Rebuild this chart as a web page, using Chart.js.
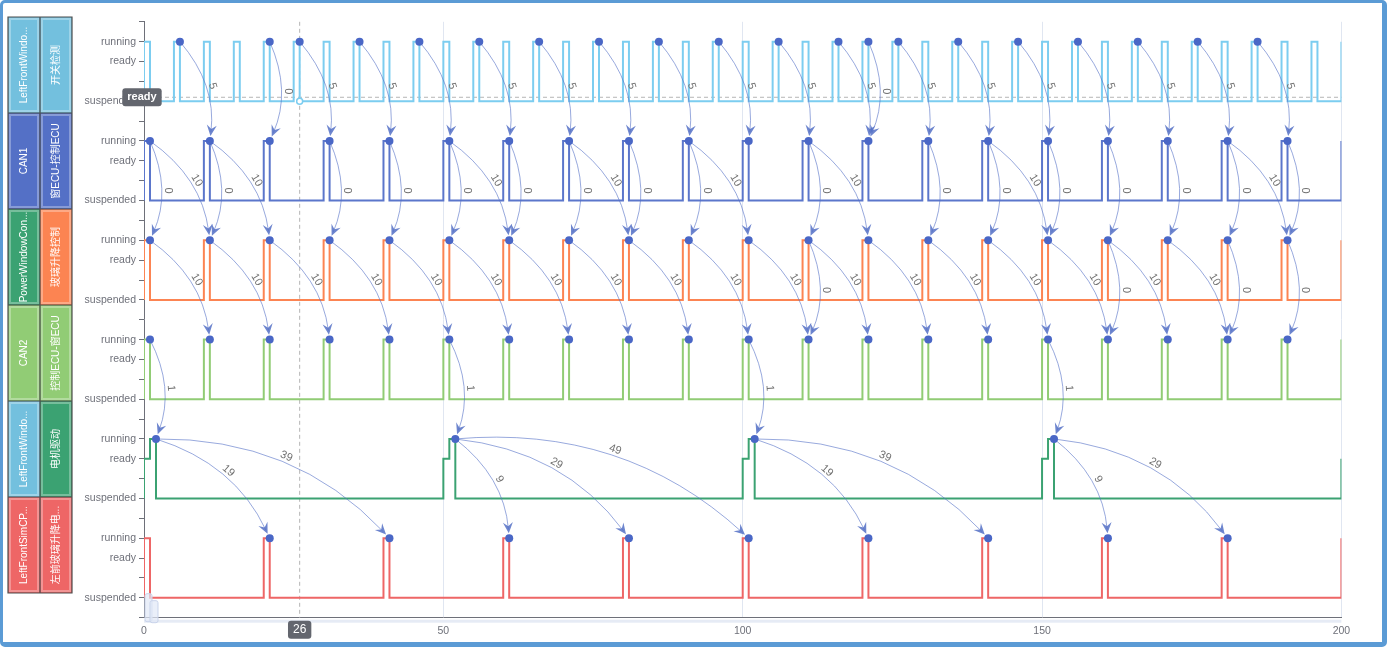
<!DOCTYPE html>
<html>
<head>
<meta charset="utf-8">
<script src="https://cdn.jsdelivr.net/npm/chart.js@4.4.0/dist/chart.umd.min.js"></script>
<style>
    html, body { margin: 0; padding: 0; background: #fff; }
    #wrap { position: relative; width: 1387px; height: 647px; overflow: hidden; }
    #frame {
        position: absolute; left: 0; top: 0; width: 1387px; height: 647px;
        box-sizing: border-box; border: 3px solid #5b9bd5;
        border-right-width: 5px; border-bottom-width: 5px; border-radius: 5px;
        pointer-events: none;
    }
</style>
</head>
<body>
<div id="wrap">
    <canvas id="canvas-1" width="1387" height="647"></canvas>
    <div id="frame"></div>
</div>
<script>
(function () {
    'use strict';

    var laneTitles = ['LeftFrontWindo...', 'CAN1', 'PowerWindowCon...', 'CAN2', 'LeftFrontWindo...', 'LeftFrontSimCP...'];
    var laneTasks = ['开关检测', '窗ECU-控制ECU', '玻璃升降控制', '控制ECU-窗ECU', '电机驱动', '左前玻璃升降电...'];
    var stateLabels = ['suspended', '', 'ready', 'running'];
    var xTicks = [0, 50, 100, 150, 200];

    // start time of every 1-unit "running" slice, per lane
    var switchRuns = [0, 5, 10, 15, 20, 25, 30, 35, 40, 45, 50, 55, 60, 65, 70, 75, 80, 85, 90, 95, 100,
        105, 110, 115, 120, 125, 130, 135, 140, 145, 150, 155, 160, 165, 170, 175, 180, 185, 190, 195, 200];
    var can1Runs = [0, 10, 20, 30, 40, 50, 60, 70, 80, 90, 100, 110, 120, 130, 140, 150, 160, 170, 180, 190, 200];
    var ctrlRuns = [0, 10, 20, 30, 40, 50, 60, 70, 80, 90, 100, 110, 120, 130, 140, 150, 160, 170, 180, 190, 200];
    var can2Runs = [0, 10, 20, 30, 40, 50, 60, 70, 80, 90, 100, 110, 120, 130, 140, 150, 160, 170, 180, 190, 200];
    var motorReady = [0, 50, 100, 150, 200];
    var motorRuns = [1, 51, 101, 151];
    var simRuns = [0, 20, 40, 60, 80, 100, 120, 140, 160, 180, 200];

    // finished jobs (the dots)
    var switchDone = [6, 21, 26, 36, 46, 56, 66, 76, 86, 96, 106, 116, 121, 126, 136, 146, 156, 166, 176, 186];
    var can1Done = [1, 11, 21, 31, 41, 51, 61, 71, 81, 91, 101, 111, 121, 131, 141, 151, 161, 171, 181, 191];
    var ctrlDone = [1, 11, 21, 31, 41, 51, 61, 71, 81, 91, 101, 111, 121, 131, 141, 151, 161, 171, 181, 191];
    var can2Done = [1, 11, 21, 31, 41, 51, 61, 71, 81, 91, 101, 111, 121, 131, 141, 151, 161, 171, 181, 191];
    var motorDone = [2, 52, 102, 152];
    var simDone = [21, 41, 61, 81, 101, 121, 141, 161, 181];

    // dependency arrows between neighbouring lanes: [from time, to time]
    var switchToCan1 = [[6, 11], [21, 21], [26, 31], [36, 41], [46, 51], [56, 61], [66, 71], [76, 81], [86, 91], [96, 101],
        [106, 111], [116, 121], [121, 121], [126, 131], [136, 141], [146, 151], [156, 161], [166, 171], [176, 181], [186, 191]];
    var can1ToCtrl = [[1, 1], [1, 11], [11, 11], [11, 21], [31, 31], [41, 41], [51, 51], [51, 61], [61, 61], [71, 71],
        [71, 81], [81, 81], [91, 91], [91, 101], [111, 111], [111, 121], [131, 131], [141, 141], [141, 151], [151, 151],
        [161, 161], [171, 171], [181, 181], [181, 191], [191, 191]];
    var ctrlToCan2 = [[1, 11], [11, 21], [21, 31], [31, 41], [41, 51], [51, 61], [61, 71], [71, 81], [81, 91], [91, 101],
        [101, 111], [111, 121], [121, 131], [131, 141], [141, 151], [151, 161], [161, 171], [171, 181],
        [111, 111], [161, 161], [181, 181], [191, 191]];
    var can2ToMotor = [[1, 2], [51, 52], [101, 102], [151, 152]];
    var motorToSim = [[2, 21], [2, 41], [52, 61], [52, 81], [52, 101], [102, 121], [102, 141], [152, 161], [152, 181]];

    // hover crosshair shown in the picture
    var pointerX = 26;
    var pointerY = 25.2;
    var pointerYLabel = 'ready';

    var laneColors = ['#7ccdf0', '#5b76cb', '#fc8452', '#91cc75', '#3ba272', '#ee6666'];
    var titleColors = ['#73c0de', '#5470c6', '#3ba272', '#91cc75', '#73c0de', '#ee6666'];
    var taskColors = ['#73c0de', '#5470c6', '#fc8452', '#91cc75', '#3ba272', '#ee6666'];
    var FONT = '"Liberation Sans", "Noto Sans CJK SC", sans-serif';

    var runs = [switchRuns, can1Runs, ctrlRuns, can2Runs, motorRuns, simRuns];
    var readies = [[], [], [], [], motorReady, []];
    var done = [switchDone, can1Done, ctrlDone, can2Done, motorDone, simDone];
    var links = [switchToCan1, can1ToCtrl, ctrlToCan2, can2ToMotor, motorToSim];

    function laneBase(i) { return (5 - i) * 5; }

    // step trace: suspended by default, 1 unit at ready/running per entry
    function buildTrace(i) {
        var base = laneBase(i);
        var spans = runs[i].map(function (t) { return [t, base + 3]; })
            .concat(readies[i].map(function (t) { return [t, base + 2]; }))
            .sort(function (a, b) { return a[0] - b[0]; });
        var pts = [{x: 0, y: base}];
        var level = base;
        spans.forEach(function (s, k) {
            pts.push({x: s[0], y: level});
            pts.push({x: s[0], y: s[1]});
            pts.push({x: s[0] + 1, y: s[1]});
            var next = spans[k + 1];
            if (!next || next[0] > s[0] + 1) {
                pts.push({x: s[0] + 1, y: base});
                level = base;
            } else {
                level = s[1];
            }
        });
        return pts;
    }

    var datasets = [];
    var dots = [];
    for (var i = 0; i < 6; i++) {
        done[i].forEach(function (t) { dots.push({x: t, y: laneBase(i) + 3}); });
    }
    datasets.push({
        label: 'done',
        data: dots,
        showLine: false,
        pointRadius: 4,
        pointBackgroundColor: '#4a67c6',
        pointBorderWidth: 0,
        order: 0
    });
    for (var j = 0; j < 6; j++) {
        datasets.push({
            label: laneTasks[j],
            data: buildTrace(j),
            borderColor: laneColors[j],
            borderWidth: 2,
            pointRadius: 0,
            fill: false,
            tension: 0,
            order: 1
        });
    }

    function drawLink(ctx, x1, y1, x2, y2, text) {
        var dx = x2 - x1, dy = y2 - y1;
        var c = 0.22;
        var cx = (x1 + x2) / 2 + dy * c;
        var cy = (y1 + y2) / 2 - dx * c;
        var tx = x2 - cx, ty = y2 - cy;
        var tl = Math.sqrt(tx * tx + ty * ty);
        tx /= tl; ty /= tl;
        var tipX = x2 - tx * 5, tipY = y2 - ty * 5;

        ctx.strokeStyle = 'rgba(84,112,198,0.6)';
        ctx.lineWidth = 1;
        ctx.beginPath();
        ctx.moveTo(x1, y1);
        ctx.quadraticCurveTo(cx, cy, tipX - tx * 4, tipY - ty * 4);
        ctx.stroke();

        var nx = -ty, ny = tx;
        ctx.fillStyle = 'rgba(84,112,198,0.85)';
        ctx.beginPath();
        ctx.moveTo(tipX, tipY);
        ctx.lineTo(tipX - tx * 11 + nx * 5, tipY - ty * 11 + ny * 5);
        ctx.lineTo(tipX - tx * 7, tipY - ty * 7);
        ctx.lineTo(tipX - tx * 11 - nx * 5, tipY - ty * 11 - ny * 5);
        ctx.closePath();
        ctx.fill();

        var mx = 0.25 * x1 + 0.5 * cx + 0.25 * x2;
        var my = 0.25 * y1 + 0.5 * cy + 0.25 * y2;
        ctx.save();
        ctx.translate(mx, my);
        ctx.rotate(Math.atan2(dy, dx));
        ctx.fillStyle = '#707070';
        ctx.font = '11px ' + FONT;
        ctx.textAlign = 'center';
        ctx.textBaseline = 'middle';
        ctx.fillText(text, 0, -7);
        ctx.restore();
    }

    function roundBox(ctx, x, y, w, h, r) {
        ctx.beginPath();
        ctx.moveTo(x + r, y);
        ctx.arcTo(x + w, y, x + w, y + h, r);
        ctx.arcTo(x + w, y + h, x, y + h, r);
        ctx.arcTo(x, y + h, x, y, r);
        ctx.arcTo(x, y, x + w, y, r);
        ctx.closePath();
    }

    var tracePlugin = {
        id: 'tracePlugin',
        beforeDatasetsDraw: function (chart) {
            var ctx = chart.ctx, xs = chart.scales.x, ys = chart.scales.y, area = chart.chartArea;
            var px = xs.getPixelForValue(pointerX);
            var py = ys.getPixelForValue(pointerY);
            ctx.save();
            ctx.strokeStyle = '#b5b5b5';
            ctx.lineWidth = 1;
            ctx.setLineDash([4, 3]);
            ctx.beginPath();
            ctx.moveTo(px, area.top);
            ctx.lineTo(px, area.bottom);
            ctx.moveTo(area.left, py);
            ctx.lineTo(area.right, py);
            ctx.stroke();
            ctx.restore();
        },
        beforeDatasetDraw: function (chart, args) {
            if (args.index !== 0) return;
            var ctx = chart.ctx, xs = chart.scales.x, ys = chart.scales.y;
            ctx.save();
            links.forEach(function (list, lane) {
                var yFrom = ys.getPixelForValue(laneBase(lane) + 3);
                var yTo = ys.getPixelForValue(laneBase(lane + 1) + 3);
                list.forEach(function (l) {
                    drawLink(ctx, xs.getPixelForValue(l[0]), yFrom, xs.getPixelForValue(l[1]), yTo, String(l[1] - l[0]));
                });
            });
            ctx.restore();
        },
        afterDraw: function (chart) {
            var ctx = chart.ctx, xs = chart.scales.x, ys = chart.scales.y, area = chart.chartArea;
            ctx.save();

            // hovered point on the first lane
            ctx.beginPath();
            ctx.arc(xs.getPixelForValue(pointerX), ys.getPixelForValue(laneBase(0)), 3, 0, Math.PI * 2);
            ctx.fillStyle = '#fff';
            ctx.fill();
            ctx.strokeStyle = laneColors[0];
            ctx.lineWidth = 1.5;
            ctx.stroke();

            // slider strip under the x axis
            ctx.fillStyle = '#e6ebf5';
            ctx.fillRect(area.left, area.bottom + 2, area.right - area.left, 3);
            ctx.strokeStyle = '#c9d3ea';
            ctx.fillStyle = 'rgba(225,232,246,0.7)';
            ctx.lineWidth = 1;
            roundBox(ctx, area.left + 1, area.bottom - 24, 7, 28, 2);
            ctx.fill(); ctx.stroke();
            roundBox(ctx, area.left + 6, area.bottom - 17, 8, 22, 2);
            ctx.fill(); ctx.stroke();

            // axis pointer labels
            ctx.font = 'bold 11px ' + FONT;
            ctx.textAlign = 'center';
            ctx.textBaseline = 'middle';
            var py = ys.getPixelForValue(pointerY);
            var lw = ctx.measureText(pointerYLabel).width + 10;
            ctx.fillStyle = '#63666e';
            roundBox(ctx, area.left - 2 - lw / 2, py - 9, lw, 18, 3);
            ctx.fill();
            ctx.fillStyle = '#fff';
            ctx.fillText(pointerYLabel, area.left - 2, py);

            ctx.font = '12px ' + FONT;
            var px = xs.getPixelForValue(pointerX);
            var xw = ctx.measureText(String(pointerX)).width + 10;
            ctx.fillStyle = '#63666e';
            roundBox(ctx, px - xw / 2, area.bottom + 3, xw, 18, 3);
            ctx.fill();
            ctx.fillStyle = '#fff';
            ctx.fillText(String(pointerX), px, area.bottom + 12);

            // lane table on the left
            var left = 8, colW = 32, top = 17, rowH = 96;
            ctx.font = '10px ' + FONT;
            for (var r = 0; r < 6; r++) {
                var y0 = top + r * rowH;
                [[titleColors[r], laneTitles[r]], [taskColors[r], laneTasks[r]]].forEach(function (cell, c) {
                    var x0 = left + c * colW;
                    ctx.fillStyle = cell[0];
                    ctx.fillRect(x0, y0, colW, rowH);
                    ctx.strokeStyle = 'rgba(255,255,255,0.3)';
                    ctx.lineWidth = 2;
                    ctx.strokeRect(x0 + 2, y0 + 2, colW - 4, rowH - 4);
                    ctx.save();
                    ctx.translate(x0 + colW / 2, y0 + rowH / 2);
                    ctx.rotate(-Math.PI / 2);
                    ctx.fillStyle = '#fff';
                    ctx.fillText(cell[1], 0, 0);
                    ctx.restore();
                });
            }
            ctx.strokeStyle = '#4d4d4d';
            ctx.lineWidth = 1.2;
            ctx.beginPath();
            ctx.rect(left, top, colW * 2, rowH * 6);
            ctx.moveTo(left + colW, top);
            ctx.lineTo(left + colW, top + rowH * 6);
            for (var k = 1; k < 6; k++) {
                ctx.moveTo(left, top + k * rowH);
                ctx.lineTo(left + colW * 2, top + k * rowH);
            }
            ctx.stroke();
            ctx.restore();
        }
    };

    var ctx = document.getElementById('canvas-1');
    var chart = new Chart(ctx, {
        type: 'line',
        data: {datasets: datasets},
        options: {
            responsive: false,
            animation: false,
            events: [],
            layout: {padding: {left: 80, right: 45.6, top: 21.8, bottom: 0}},
            plugins: {legend: {display: false}, tooltip: {enabled: false}},
            scales: {
                x: {
                    type: 'linear',
                    min: 0,
                    max: 200,
                    afterFit: function (scale) { scale.height = 29.3; },
                    afterBuildTicks: function (scale) {
                        scale.ticks = xTicks.map(function (v) { return {value: v}; });
                    },
                    grid: {color: '#e0e6f1', drawTicks: false},
                    border: {color: '#6e7079'},
                    ticks: {color: '#6e7079', font: {size: 10.5, family: FONT}, padding: 7, maxRotation: 0}
                },
                y: {
                    type: 'linear',
                    min: -1,
                    max: 29,
                    afterFit: function (scale) { scale.width = 64; },
                    grid: {drawOnChartArea: false, color: '#6e7079', tickLength: 5},
                    border: {color: '#6e7079'},
                    ticks: {
                        stepSize: 1,
                        autoSkip: false,
                        color: '#6e7079',
                        padding: 3,
                        font: {size: 10.5, family: FONT},
                        callback: function (value) {
                            var k = ((value % 5) + 5) % 5;
                            return stateLabels[k] || '';
                        }
                    }
                }
            }
        },
        plugins: [tracePlugin]
    });
})();
</script>
</body>
</html>
